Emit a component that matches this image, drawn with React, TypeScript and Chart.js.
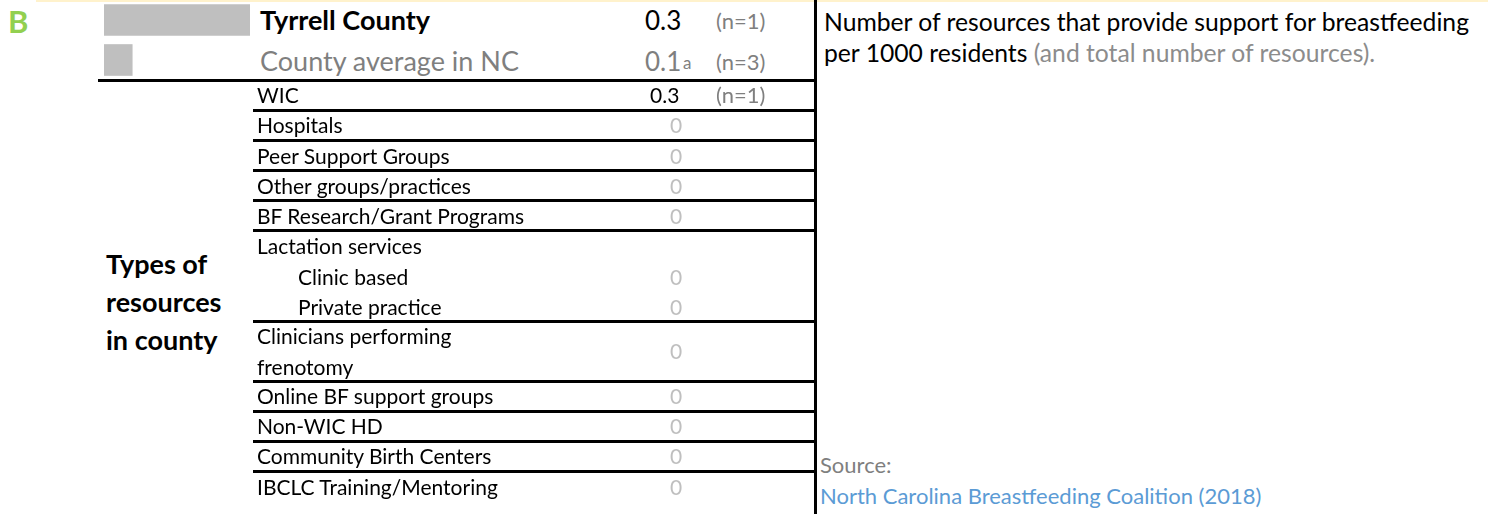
import React, { useEffect, useRef } from "react";
import { Chart, registerables } from "chart.js";

Chart.register(...registerables);

// ---- data ----
const headerLabels = ["Tyrrell County", "County average in NC"];
const headerValues = [0.3, 0.058];
const headerValueLabels = ["0.3", "0.1"];
const headerNotes = ["", "a"];
const headerCounts = ["(n=1)", "(n=3)"];

const rowLabels = [
  "WIC",
  "Hospitals",
  "Peer Support Groups",
  "Other groups/practices",
  "BF Research/Grant Programs",
  "Lactation services",
  "Clinic based",
  "Private practice",
  "Clinicians performing frenotomy",
  "Online BF support groups",
  "Non-WIC HD",
  "Community Birth Centers",
  "IBCLC Training/Mentoring",
];
const rowValueLabels = ["0.3", "0", "0", "0", "0", "", "0", "0", "0", "0", "0", "0", "0"];
const rowCounts = ["(n=1)", "", "", "", "", "", "", "", "", "", "", "", ""];

const sideTitle = ["Types of", "resources", "in county"];
const descMain = "Number of resources that provide support for breastfeeding";
const descLine2Dark = "per 1000 residents";
const descLine2Gray = " (and total number of resources).";
const sourceLabel = "Source:";
const sourceName = "North Carolina Breastfeeding Coalition (2018)";

// ---- layout (presentation only) ----
const FONT = "Lato, 'Open Sans', sans-serif";
const GRAY = "#7F7F7F";
const LIGHT = "#BFBFBF";
const rowCenters = [95, 125, 155.5, 186, 216, 246, 277, 307, 351, 396, 426, 456, 487];
const indented = [false, false, false, false, false, false, true, true, false, false, false, false, false];
const separators = [80, 110, 140, 170, 200, 230, 321, 381, 411, 441, 471];

function BarChart() {
  const ref = useRef<HTMLCanvasElement | null>(null);
  useEffect(() => {
    if (!ref.current) return;
    const chart = new Chart(ref.current, {
      type: "bar",
      data: {
        labels: headerLabels,
        datasets: [
          {
            data: headerValues,
            backgroundColor: LIGHT,
            borderWidth: 0,
            barThickness: 31,
          },
        ],
      },
      options: {
        indexAxis: "y",
        responsive: false,
        maintainAspectRatio: false,
        animation: false,
        layout: { padding: 0 },
        plugins: { legend: { display: false }, tooltip: { enabled: false } },
        scales: {
          x: { display: false, min: 0, max: 0.3 },
          y: { display: false },
        },
      },
    });
    return () => chart.destroy();
  }, []);
  return (
    <canvas
      ref={ref}
      width={146}
      height={80}
      style={{ position: "absolute", left: 104, top: 0, width: 146, height: 80 }}
    />
  );
}

function Txt(props: {
  x: number;
  cy: number;
  size: number;
  color?: string;
  bold?: boolean;
  children: React.ReactNode;
  align?: "left" | "center";
  w?: number;
}) {
  const h = 40;
  const style: React.CSSProperties = {
    position: "absolute",
    top: props.cy - h / 2,
    height: h,
    lineHeight: h + "px",
    fontSize: props.size,
    color: props.color || "#000",
    fontWeight: props.bold ? 700 : 400,
    whiteSpace: "nowrap",
  };
  if (props.align === "center") {
    style.left = props.x - (props.w || 60) / 2;
    style.width = props.w || 60;
    style.textAlign = "center";
  } else {
    style.left = props.x;
  }
  return <div style={style}>{props.children}</div>;
}

export default function App() {
  return (
    <div
      style={{
        position: "absolute",
        left: 0,
        top: 0,
        width: 1488,
        height: 514,
        background: "#fff",
        overflow: "hidden",
        fontFamily: FONT,
      }}
    >
      <div style={{ position: "absolute", left: 36, top: 0, width: 1452, height: 2, background: "#FFF2CC" }} />
      <Txt x={8} cy={21} size={31} bold color="#92D050">B</Txt>

      <BarChart />

      {headerLabels.map((l, i) => (
        <React.Fragment key={"h" + i}>
          <Txt x={260} cy={i === 0 ? 20 : 61} size={27} bold={i === 0} color={i === 0 ? "#000" : GRAY}>
            {l}
          </Txt>
          <Txt x={645} cy={i === 0 ? 20 : 61} size={26} color={i === 0 ? "#000" : GRAY}>
            {headerValueLabels[i]}
          </Txt>
          {headerNotes[i] ? (
            <Txt x={683} cy={63} size={17} color={GRAY}>
              {headerNotes[i]}
            </Txt>
          ) : null}
          <Txt x={716} cy={i === 0 ? 21 : 62} size={22} color={GRAY}>
            {headerCounts[i]}
          </Txt>
        </React.Fragment>
      ))}

      <div style={{ position: "absolute", left: 98, top: separators[0] - 1, width: 717, height: 3, background: "#000" }} />
      {separators.slice(1).map((y, i) => (
        <div key={"s" + i} style={{ position: "absolute", left: 253, top: y - 1, width: 562, height: 3, background: "#000" }} />
      ))}
      <div style={{ position: "absolute", left: 814, top: 0, width: 3, height: 514, background: "#000" }} />

      {rowLabels.map((l, i) => {
        const cy = rowCenters[i];
        const two = l === "Clinicians performing frenotomy";
        return (
          <React.Fragment key={"r" + i}>
            {two ? (
              <>
                <Txt x={257} cy={cy - 15} size={21}>Clinicians performing</Txt>
                <Txt x={257} cy={cy + 16} size={21}>frenotomy</Txt>
              </>
            ) : (
              <Txt x={indented[i] ? 298 : 257} cy={cy} size={21}>
                {l}
              </Txt>
            )}
            {rowValueLabels[i] === "0" ? (
              <Txt x={676} cy={cy} size={21} color={LIGHT} align="center" w={40}>
                0
              </Txt>
            ) : rowValueLabels[i] ? (
              <Txt x={650} cy={cy} size={21}>
                {rowValueLabels[i]}
              </Txt>
            ) : null}
            {rowCounts[i] ? (
              <Txt x={716} cy={cy} size={22} color={GRAY}>
                {rowCounts[i]}
              </Txt>
            ) : null}
          </React.Fragment>
        );
      })}

      {sideTitle.map((t, i) => (
        <Txt key={"t" + i} x={106} cy={264 + i * 38} size={27} bold>
          {t}
        </Txt>
      ))}

      <Txt x={824} cy={22} size={24.7}>{descMain}</Txt>
      <Txt x={824} cy={53} size={24.7}>
        {descLine2Dark}
        <span style={{ color: "#8C8C8C" }}>{descLine2Gray}</span>
      </Txt>

      <Txt x={820} cy={465} size={22} color={GRAY}>{sourceLabel}</Txt>
      <Txt x={820} cy={496} size={22} color="#5B9BD5">{sourceName}</Txt>
    </div>
  );
}
